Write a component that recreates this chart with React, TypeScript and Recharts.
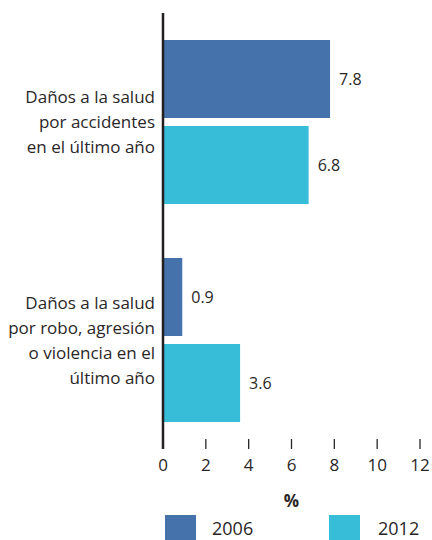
import { BarChart, Bar, XAxis, YAxis, Legend, LabelList } from 'recharts';

const categories = [
  'Daños a la salud\npor accidentes\nen el último año',
  'Daños a la salud\npor robo, agresión\no violencia en el\núltimo año',
];
const values2006 = [7.8, 0.9];
const values2012 = [6.8, 3.6];
const xTicks = [0, 2, 4, 6, 8, 10, 12];
const seriesNames = ['2006', '2012'];
const colors = ['#4672ab', '#38bdd8'];

const data = categories.map((name, i) => ({
  name,
  y2006: values2006[i],
  y2012: values2012[i],
}));

const FONT = '"Open Sans", sans-serif';
const TEXT = '#2a2627';

function CategoryTick({ x, y, payload }: any) {
  const lines = String(payload.value).split('\n');
  const lh = 25;
  const start = y - ((lines.length - 1) * lh) / 2;
  return (
    <text x={x} y={start} textAnchor="end" fontFamily={FONT} fontSize={17} fill={TEXT}>
      {lines.map((l, i) => (
        <tspan key={i} x={x} y={start + i * lh} dy={6}>
          {l}
        </tspan>
      ))}
    </text>
  );
}

function ValueTick({ x, y, payload }: any) {
  return (
    <g>
      <line x1={x} x2={x} y1={y - 10} y2={y} stroke={TEXT} strokeWidth={1.3} />
      <text x={x} y={y + 22} textAnchor="middle" fontFamily={FONT} fontSize={17} fill={TEXT}>
        {payload.value}
      </text>
    </g>
  );
}

function LegendBox() {
  return (
    <div style={{ position: 'relative', width: 432, height: 31 }}>
      {seriesNames.map((s, i) => (
        <div key={s}>
          <div
            style={{
              position: 'absolute',
              left: i === 0 ? 165 : 329,
              top: 6,
              width: 31,
              height: 25,
              background: colors[i],
            }}
          />
          <div
            style={{
              position: 'absolute',
              left: i === 0 ? 212 : 378,
              top: 7,
              fontFamily: FONT,
              fontSize: 18,
              color: TEXT,
              lineHeight: '24px',
            }}
          >
            {s}
          </div>
        </div>
      ))}
    </div>
  );
}

export default function App() {
  return (
    <div style={{ position: 'absolute', left: 0, top: 0, background: '#fff' }}>
      <BarChart
        width={432}
        height={540}
        data={data}
        layout="vertical"
        margin={{ top: 13, right: 12, bottom: 0, left: 0 }}
        barCategoryGap={27}
        barGap={8}
      >
        <XAxis
          type="number"
          domain={[0, 12]}
          ticks={xTicks}
          axisLine={false}
          tickLine={false}
          tickSize={0}
          tickMargin={0}
          tick={<ValueTick />}
          height={60}
          interval={0}
          label={{
            value: '%',
            position: 'insideBottom',
            offset: 2,
            fontFamily: FONT,
            fontSize: 17,
            fontWeight: 700,
            fill: TEXT,
          }}
        />
        <YAxis
          type="category"
          dataKey="name"
          width={163}
          axisLine={{ stroke: '#231f20', strokeWidth: 2.5 }}
          tickLine={false}
          tick={<CategoryTick />}
          interval={0}
        />
        <Legend
          verticalAlign="bottom"
          wrapperStyle={{ left: 0, width: 432, bottom: 0 }}
          content={() => <LegendBox />}
        />
        <Bar dataKey="y2006" name="2006" fill={colors[0]} barSize={78} isAnimationActive={false}>
          <LabelList dataKey="y2006" position="right" offset={9} fontFamily={FONT} fontSize={16} fill={TEXT} />
        </Bar>
        <Bar dataKey="y2012" name="2012" fill={colors[1]} barSize={78} isAnimationActive={false}>
          <LabelList dataKey="y2012" position="right" offset={9} fontFamily={FONT} fontSize={16} fill={TEXT} />
        </Bar>
      </BarChart>
    </div>
  );
}
